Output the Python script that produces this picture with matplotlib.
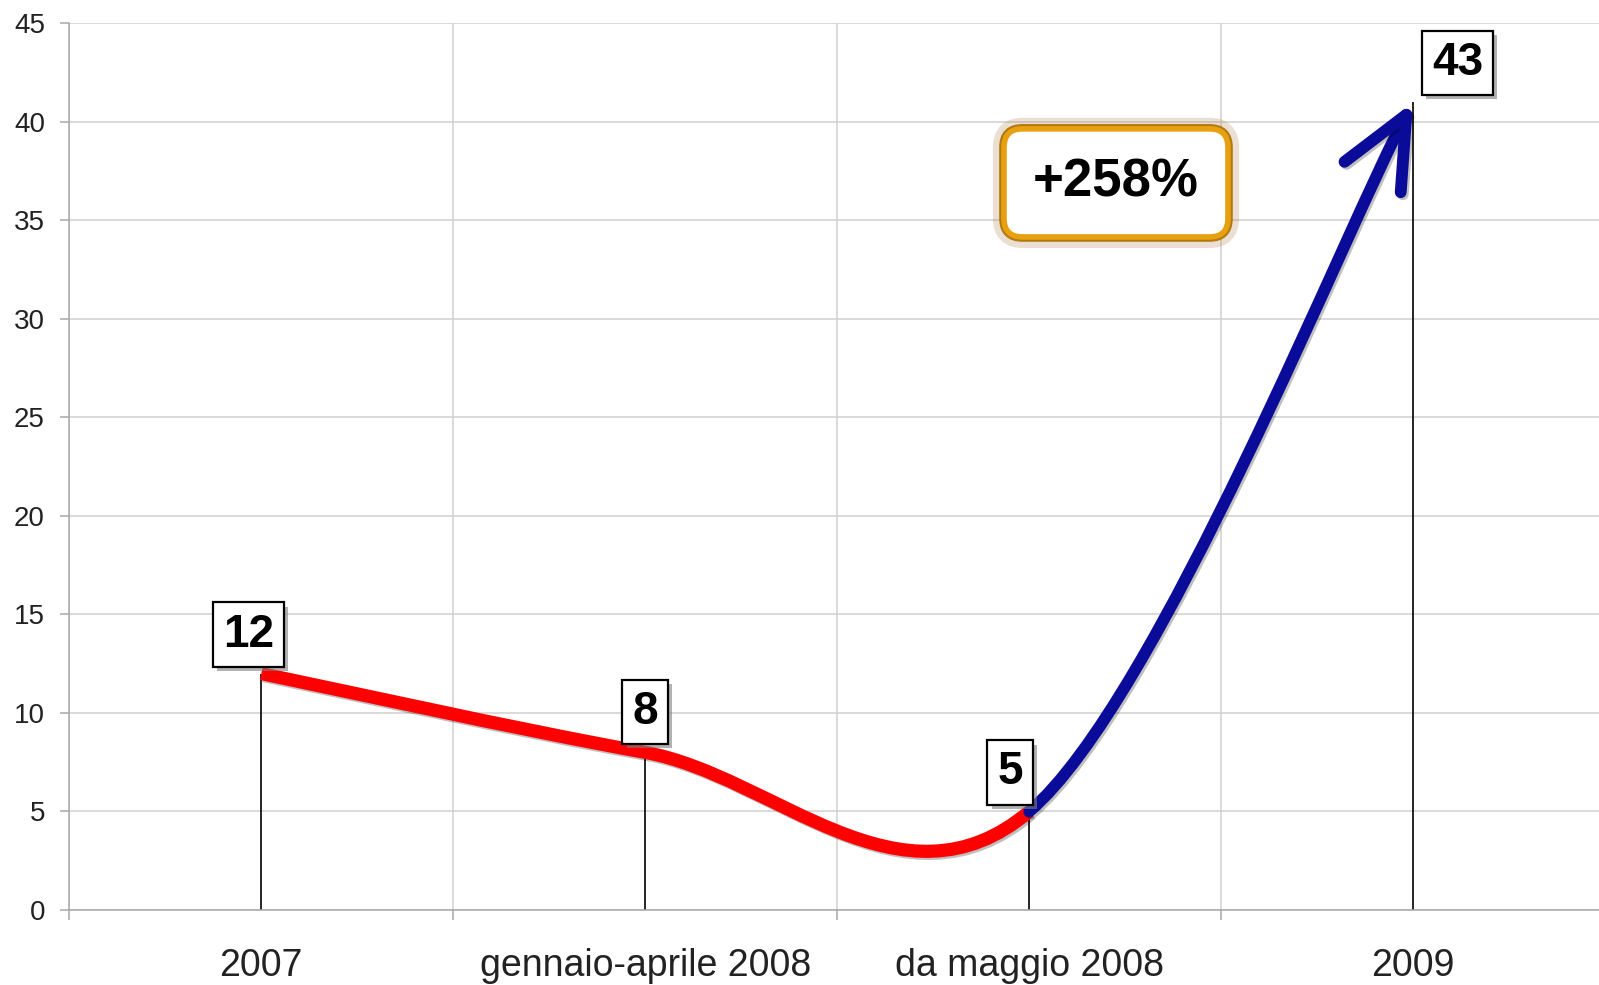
import matplotlib
matplotlib.use("Agg")
import matplotlib.pyplot as plt
import matplotlib.patheffects as pe
from matplotlib.path import Path
from matplotlib.patches import FancyArrowPatch, PathPatch
import numpy as np

plt.rcParams['font.family'] = ['Liberation Sans', 'DejaVu Sans']

# data
categories = ["2007", "gennaio-aprile 2008", "da maggio 2008", "2009"]
values = [12, 8, 5, 41]          # where the line / drop lines end
labels = ["12", "8", "5", "43"]  # printed data labels
growth = "+258%"

RED = "#FF0000"
NAVY = "#0B0B99"
GRID = "#D0D0D0"
AXIS = "#A8A8A8"
TXT = "#222222"

W, H = 1599, 985
fig = plt.figure(figsize=(W / 100, H / 100), dpi=100, facecolor="white")
ax = fig.add_axes([69.3 / W, 75 / H, 1 - 69.3 / W, (910 - 23.3) / H])

xs = np.arange(len(categories)) + 0.5
ax.set_xlim(0, 3.984)
ax.set_ylim(0, 45)

# grid / axes
ax.set_yticks(np.arange(0, 46, 5))
ax.set_xticks(np.arange(0, 4))
ax.set_xticklabels([])
ax.set_xticks(xs, minor=True)
ax.set_xticklabels(categories, minor=True)
ax.grid(True, which="major", color=GRID, lw=1.1)
ax.set_axisbelow(True)
for s in ("top", "right"):
    ax.spines[s].set_visible(False)
for s in ("left", "bottom"):
    ax.spines[s].set_color(AXIS)
    ax.spines[s].set_linewidth(1.1)
ax.tick_params(axis="y", length=6.5, width=1.1, color=AXIS, pad=11,
               labelsize=20, labelcolor=TXT)
ax.tick_params(axis="x", which="major", length=7.2, width=1.1, color=AXIS)
ax.tick_params(axis="x", which="minor", length=0, pad=27,
               labelsize=27, labelcolor=TXT)

# drop lines
ax.vlines(xs, 0, values, color="black", lw=1.2, zorder=2)


# Excel-style smoothed segments (bezier through the data points)
def smooth_segments(px, py):
    pts = np.column_stack([px, py])
    n = len(pts)
    segs = []
    for i in range(n - 1):
        p0 = pts[max(i - 1, 0)]
        p1, p2 = pts[i], pts[i + 1]
        p3 = pts[min(i + 2, n - 1)]
        c1 = p1 + (p2 - p0) / 6
        c2 = p2 - (p3 - p1) / 6
        segs.append((p1, c1, c2, p2))
    return segs


segs = smooth_segments(xs, values)

# red part: first two segments
verts = [segs[0][0]]
codes = [Path.MOVETO]
for s in segs[:2]:
    verts += [s[1], s[2], s[3]]
    codes += [Path.CURVE4] * 3
red = PathPatch(Path(verts, codes), fill=False, edgecolor=RED, lw=9.5,
                capstyle="butt", zorder=4, transform=ax.transData)
red.set_path_effects([pe.SimpleLineShadow(offset=(1.5, -1.5), alpha=0.25),
                      pe.Normal()])
ax.add_patch(red)

# blue arrow: last segment
s = segs[2]
blue = FancyArrowPatch(path=Path([s[0], s[1], s[2], s[3]],
                                 [Path.MOVETO, Path.CURVE4, Path.CURVE4, Path.CURVE4]),
                       arrowstyle="->,head_length=5.1,head_width=2.3",
                       mutation_scale=10, lw=8.5, color=NAVY,
                       capstyle="round", joinstyle="round",
                       transform=ax.transData, zorder=5)
blue.set_path_effects([pe.SimpleLineShadow(offset=(1.5, -1.5), alpha=0.25),
                       pe.Normal()])
ax.add_patch(blue)

# data labels
offsets = [(-13, 39), (0, 40.5), (-19, 39), (44.5, 39)]
for x, v, lab, (dx, dy) in zip(xs, values, labels, offsets):
    t = ax.annotate(lab, xy=(x, v), xytext=(dx, dy), textcoords="offset pixels",
                    ha="center", va="center", fontsize=33, fontweight="bold",
                    color="black", zorder=6,
                    bbox=dict(boxstyle="square,pad=0.22", facecolor="white",
                              edgecolor="black", lw=1.6))
    t.get_bbox_patch().set_path_effects(
        [pe.withSimplePatchShadow(offset=(3, -3), shadow_rgbFace="gray", alpha=0.6)])

# growth callout
g = ax.text(2.726, 36.9, growth, ha="center", va="center", fontsize=38,
            fontweight="bold", color="black", zorder=7,
            bbox=dict(boxstyle="round,pad=0.55,rounding_size=0.35",
                      facecolor="white", edgecolor="#E8A010", lw=4))
g.get_bbox_patch().set_path_effects(
    [pe.Stroke(linewidth=16, foreground="#B08050", alpha=0.25),
     pe.Stroke(linewidth=7, foreground="#B07A10"),
     pe.Normal()])

fig.savefig("out.png", dpi=100, facecolor="white")
